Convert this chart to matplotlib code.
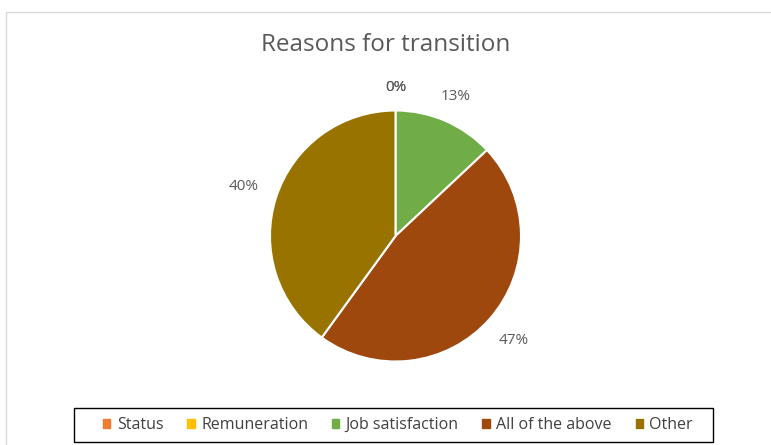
import matplotlib.pyplot as plt
import matplotlib.patches as mpatches
import numpy as np

plt.rcParams['font.family'] = ['Open Sans', 'DejaVu Sans']

categories = ["Status", "Remuneration", "Job satisfaction", "All of the above", "Other"]
values = [0, 0, 13, 47, 40]
colors = ["#ED7D31", "#FFC000", "#70AD47", "#9E480E", "#997300"]
label_dist = [1.18, 1.18, 1.21, 1.26, 1.27]

W, H = 771, 445
cx, cy, r = 395.5, 209, 125.5  # pie centre / radius in pixels (from bottom-left)

fig = plt.figure(figsize=(W / 100, H / 100), dpi=100)
# light chart-area border
fig.patches.append(mpatches.Rectangle((6 / W, -0.1), 1.2, (H - 12) / H + 0.1,
                                      transform=fig.transFigure, fill=False,
                                      edgecolor="#d9d9d9", linewidth=1))
# legend box (drawn separately so it can be wider than the entries)
fig.patches.append(mpatches.Rectangle((74 / W, (H - 442) / H), 639 / W, 34 / H,
                                      transform=fig.transFigure, fill=False,
                                      edgecolor="black", linewidth=1))

ax = fig.add_axes([0, 0, 1, 1])

wedges, _ = ax.pie(values, colors=colors, startangle=90, counterclock=False,
                   radius=1, wedgeprops=dict(edgecolor="white", linewidth=1.5))
ax.set_xlim(-cx / r, (W - cx) / r)
ax.set_ylim(-cy / r, (H - cy) / r)
ax.set_aspect("auto")
ax.axis("off")

total = sum(values)
cum = 0
for v, d in zip(values, label_dist):
    mid = 90 - (cum + v / 2) / total * 360
    cum += v
    ang = np.deg2rad(mid)
    ax.text(d * np.cos(ang), d * np.sin(ang), f"{v / total * 100:.0f}%",
            ha="center", va="center", fontsize=11, color="#595959")

fig.text(0.5, (H - 45) / H, "Reasons for transition", ha="center", va="center",
         fontsize=17.5, color="#595959")

handles = [mpatches.Patch(color=c, label=l) for c, l in zip(colors, categories)]
leg = fig.legend(handles=handles, loc="center", bbox_to_anchor=(398 / W, (H - 425) / H),
                 ncol=5, frameon=False, fontsize=11.5,
                 handlelength=0.45, handleheight=0.45, handletextpad=0.4,
                 columnspacing=1.5, borderpad=0.5)
for t in leg.get_texts():
    t.set_color("#404040")

fig.savefig("out.png", dpi=100)
